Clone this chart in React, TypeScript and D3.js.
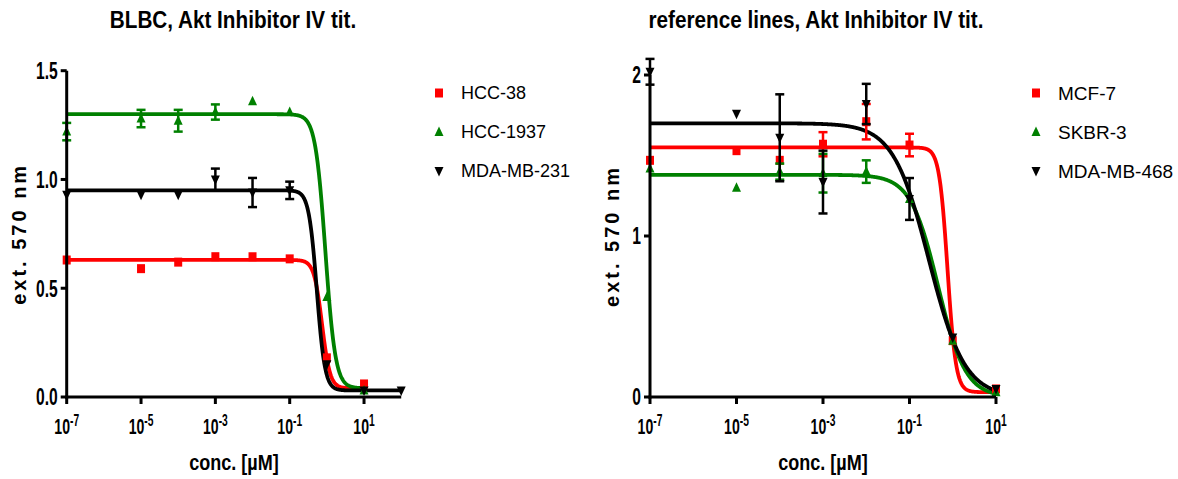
import React from "react";
import * as d3 from "d3";

// ---- data ----
// left panel: BLBC lines
const leftConc = [1e-7, 1e-5, 1e-4, 1e-3, 1e-2, 1e-1, 1, 10];
const hcc38Mean = [0.63, 0.59, 0.62, 0.645, 0.645, 0.635, 0.18, 0.06];
const hcc38Err = [0, 0, 0, 0, 0, 0, 0, 0];
const hcc1937Mean = [1.22, 1.28, 1.27, 1.31, 1.36, 1.31, 0.46, 0.03];
const hcc1937Err = [0.04, 0.04, 0.05, 0.035, 0, 0, 0, 0];
const mda231Conc = [1e-7, 1e-5, 1e-4, 1e-3, 1e-2, 1e-1, 1, 10, 100];
const mda231Mean = [0.93, 0.93, 0.93, 1.0, 0.94, 0.95, 0.15, 0.03, 0.03];
const mda231Err = [0, 0, 0, 0.05, 0.067, 0.04, 0, 0, 0];

// right panel: reference lines
const rightConc = [1e-7, 1e-5, 1e-4, 1e-3, 1e-2, 1e-1, 1, 10];
const mcf7Mean = [1.47, 1.53, 1.47, 1.57, 1.71, 1.565, 0.35, 0.05];
const mcf7Err = [0, 0, 0, 0.075, 0.11, 0.07, 0, 0];
const skbr3Mean = [1.42, 1.3, 1.4, 1.39, 1.4, 1.23, 0.35, 0.03];
const skbr3Err = [0, 0, 0.05, 0.12, 0.07, 0, 0, 0];
const mda468Mean = [2.02, 1.76, 1.61, 1.335, 1.82, 1.23, 0.37, 0.05];
const mda468Err = [0.08, 0, 0.27, 0.195, 0.125, 0.13, 0, 0];

// 4PL fit parameters: [top, bottom, logEC50, hill]
const hcc38Fit = [0.63, 0.04, -0.13, -4];
const hcc1937Fit = [1.3, 0.04, -0.04, -3.2];
const mda231Fit = [0.95, 0.03, -0.27, -4];
const mcf7Fit = [1.55, 0.03, -0.12, -4.5];
const skbr3Fit = [1.38, 0.0, -0.34, -1.37];
const mda468Fit = [1.7, 0.0, -0.55, -1.05];

// axis ticks
const leftYTicks = [0, 0.5, 1.0, 1.5];
const rightYTicks = [0, 1, 2];
const leftXTicks = [-7, -5, -3, -1, 1];
const rightXTicks = [-7, -5, -3, -1, 1];

type Shape = "square" | "up" | "down";
interface Series {
  name: string;
  color: string;
  shape: Shape;
  conc: number[];
  mean: number[];
  err: number[];
  fit: number[];
  fitMax: number;
}

const leftSeries: Series[] = [
  { name: "HCC-38", color: "#ff0000", shape: "square", conc: leftConc, mean: hcc38Mean, err: hcc38Err, fit: hcc38Fit, fitMax: 1 },
  { name: "HCC-1937", color: "#008000", shape: "up", conc: leftConc, mean: hcc1937Mean, err: hcc1937Err, fit: hcc1937Fit, fitMax: 1 },
  { name: "MDA-MB-231", color: "#000000", shape: "down", conc: mda231Conc, mean: mda231Mean, err: mda231Err, fit: mda231Fit, fitMax: 2 },
];

const rightSeries: Series[] = [
  { name: "MCF-7", color: "#ff0000", shape: "square", conc: rightConc, mean: mcf7Mean, err: mcf7Err, fit: mcf7Fit, fitMax: 1 },
  { name: "SKBR-3", color: "#008000", shape: "up", conc: rightConc, mean: skbr3Mean, err: skbr3Err, fit: skbr3Fit, fitMax: 1 },
  { name: "MDA-MB-468", color: "#000000", shape: "down", conc: rightConc, mean: mda468Mean, err: mda468Err, fit: mda468Fit, fitMax: 1 },
];

const SANS = "'Liberation Sans', Arial, sans-serif";

const fourPL = (fit: number[], lx: number) => {
  const [top, bottom, logEC50, hill] = fit;
  return bottom + (top - bottom) / (1 + Math.pow(10, (logEC50 - lx) * hill));
};

const markerPath = (shape: Shape, cx: number, cy: number) => {
  if (shape === "square") return `M${cx - 4},${cy - 4.5}h8v9h-8z`;
  if (shape === "up") return `M${cx},${cy - 5.5}L${cx + 4.5},${cy + 4}L${cx - 4.5},${cy + 4}z`;
  return `M${cx - 4.5},${cy - 4}L${cx + 4.5},${cy - 4}L${cx},${cy + 5.5}z`;
};

// bold text squeezed horizontally, like the condensed font of the original
const Squeezed: React.FC<{ x: number; y: number; sx: number; size: number; anchor?: string; dy?: string; children: React.ReactNode }> = ({
  x, y, sx, size, anchor = "middle", dy, children,
}) => (
  <g transform={`translate(${x},${y}) scale(${sx},1)`}>
    <text textAnchor={anchor} dy={dy} fontFamily={SANS} fontWeight="bold" fontSize={size}>
      {children}
    </text>
  </g>
);

interface PanelProps {
  title: string;
  titleX: number;
  series: Series[];
  xDomain: [number, number];
  xRange: [number, number];
  yDomain: [number, number];
  yRange: [number, number];
  yTicks: number[];
  yFormat: (v: number) => string;
  xTicks: number[];
  yLabelX: number;
  legendX: number;
  legendSize: number;
}

const Panel: React.FC<PanelProps> = (p) => {
  const x = d3.scaleLog().domain(p.xDomain).range(p.xRange);
  const y = d3.scaleLinear().domain(p.yDomain).range(p.yRange);
  const cx = (p.xRange[0] + p.xRange[1]) / 2;

  return (
    <g>
      <Squeezed x={p.titleX} y={28} sx={0.9} size={23}>
        {p.title}
      </Squeezed>

      {/* fitted curves */}
      {p.series.map((s) => {
        const lo = Math.log10(p.xDomain[0]);
        const pts = d3.range(lo, s.fitMax + 0.0001, 0.01);
        const path = d3
          .line<number>()
          .x((lx) => x(Math.pow(10, lx)))
          .y((lx) => y(fourPL(s.fit, lx)))(pts);
        return <path key={s.name + "c"} d={path || ""} fill="none" stroke={s.color} strokeWidth={3.8} />;
      })}

      {/* error bars + points */}
      {p.series.map((s) => (
        <g key={s.name + "p"}>
          {s.conc.map((c, i) => {
            const px = x(c);
            const py = y(s.mean[i]);
            const e = s.err[i];
            return (
              <g key={i}>
                {e > 0 && (
                  <g stroke={s.color} strokeWidth={2.5}>
                    <line x1={px} x2={px} y1={y(s.mean[i] + e)} y2={y(s.mean[i] - e)} />
                    <line x1={px - 4.5} x2={px + 4.5} y1={y(s.mean[i] + e)} y2={y(s.mean[i] + e)} />
                    <line x1={px - 4.5} x2={px + 4.5} y1={y(s.mean[i] - e)} y2={y(s.mean[i] - e)} />
                  </g>
                )}
                <path d={markerPath(s.shape, px, py)} fill={s.color} />
              </g>
            );
          })}
        </g>
      ))}

      {/* axes */}
      <g stroke="#000" strokeWidth={3}>
        <line x1={p.xRange[0]} x2={p.xRange[0]} y1={p.yRange[0] + 1.5} y2={y(p.yDomain[1])} />
        <line x1={p.xRange[0] - 1.5} x2={p.xRange[1]} y1={p.yRange[0]} y2={p.yRange[0]} />
        {p.yTicks.map((t) => (
          <line key={"yt" + t} x1={p.xRange[0] - 6} x2={p.xRange[0]} y1={y(t)} y2={y(t)} />
        ))}
        {p.xTicks.map((t) => (
          <line key={"xt" + t} x1={x(Math.pow(10, t))} x2={x(Math.pow(10, t))} y1={p.yRange[0]} y2={p.yRange[0] + 7} />
        ))}
      </g>
      {p.yTicks.map((t) => (
        <Squeezed key={"yl" + t} x={p.xRange[0] - 9} y={y(t)} dy="0.36em" sx={0.68} size={23} anchor="end">
          {p.yFormat(t)}
        </Squeezed>
      ))}
      {p.xTicks.map((t) => (
        <Squeezed key={"xl" + t} x={x(Math.pow(10, t))} y={434} sx={0.64} size={22}>
          10
          <tspan fontSize={16} dy={-8}>
            {t}
          </tspan>
        </Squeezed>
      ))}
      <Squeezed x={cx} y={470} sx={0.82} size={22}>
        conc. [µM]
      </Squeezed>
      <text
        transform={`translate(${p.yLabelX},${(p.yRange[0] + p.yRange[1]) / 2}) rotate(-90)`}
        textAnchor="middle"
        fontFamily={SANS}
        fontWeight="bold"
        fontSize={20}
        letterSpacing={3}
      >
        ext. 570 nm
      </text>

      {/* legend */}
      {p.series.map((s, i) => {
        const ly = 93 + i * 39;
        return (
          <g key={s.name + "l"}>
            <path d={markerPath(s.shape, p.legendX, ly)} fill={s.color} />
            <text x={p.legendX + 22} y={ly} dy="0.36em" fontFamily={SANS} fontSize={p.legendSize}>
              {s.name}
            </text>
          </g>
        );
      })}
    </g>
  );
};

export default function App() {
  return (
    <div style={{ position: "absolute", left: 0, top: 0, background: "#fff" }}>
      <svg width={1178} height={479} style={{ display: "block" }}>
        <Panel
          title="BLBC, Akt Inhibitor IV tit."
          titleX={233}
          series={leftSeries}
          xDomain={[1e-7, 1e2]}
          xRange={[66.7, 401.2]}
          yDomain={[0, 1.5]}
          yRange={[397, 70.7]}
          yTicks={leftYTicks}
          yFormat={(v) => v.toFixed(1)}
          xTicks={leftXTicks}
          yLabelX={26}
          legendX={439}
          legendSize={18}
        />
        <Panel
          title="reference lines, Akt Inhibitor IV tit."
          titleX={816}
          series={rightSeries}
          xDomain={[1e-7, 1e1]}
          xRange={[650, 996]}
          yDomain={[0, 2]}
          yRange={[397, 75]}
          yTicks={rightYTicks}
          yFormat={(v) => String(v)}
          xTicks={rightXTicks}
          yLabelX={619}
          legendX={1036}
          legendSize={19}
        />
      </svg>
    </div>
  );
}
